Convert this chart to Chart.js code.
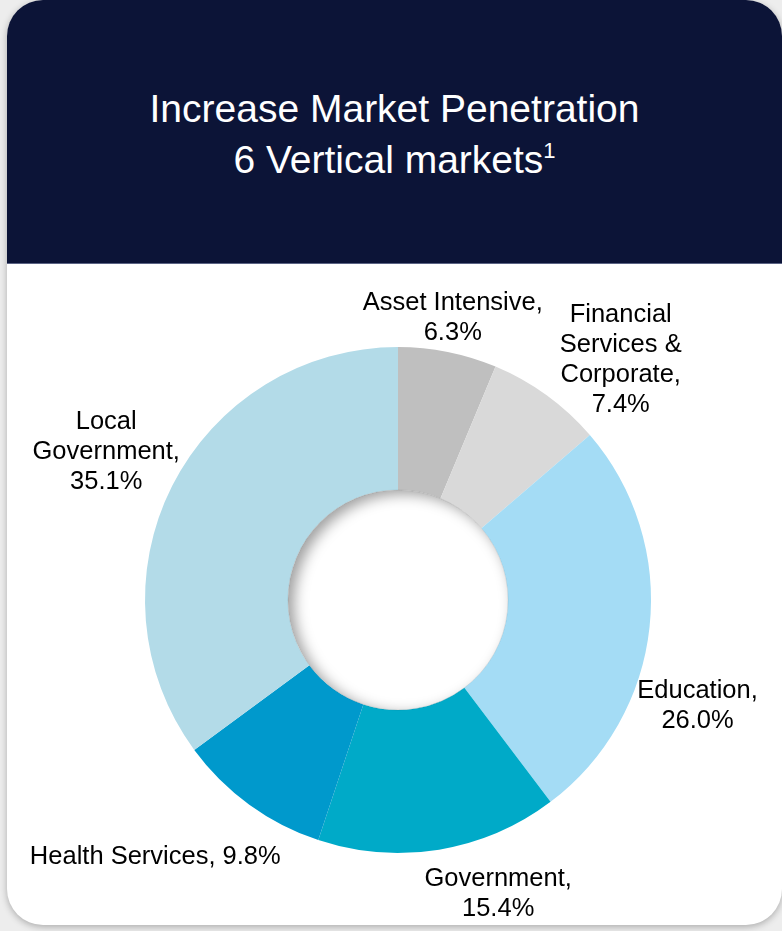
<!DOCTYPE html>
<html>
<head>
<meta charset="utf-8">
<script src="https://cdn.jsdelivr.net/npm/chart.js@4.4.1/dist/chart.umd.min.js"></script>
<style>
  html, body { margin: 0; padding: 0; }
  body {
    width: 782px; height: 931px; overflow: hidden; position: relative;
    background: #ededed;
    font-family: "Liberation Sans", Arial, sans-serif;
  }
  .card {
    position: absolute; left: 7px; top: 0; width: 775px; height: 925px;
    background: #fff; border-radius: 36px; overflow: hidden;
    box-shadow: 0 2px 7px rgba(0, 0, 0, 0.28);
  }
  .head {
    position: absolute; left: 0; top: 0; right: 0; height: 263px;
    background: #0c1437; border-bottom: 1px solid #5b6384;
  }
  .title {
    position: absolute; left: 0; right: 0; top: 83px;
    text-align: center; color: #fff; font-size: 39px; line-height: 51px;
  }
  .title sup { font-size: 22px; vertical-align: top; line-height: 34px; }
  #chart { position: absolute; left: 0; top: 0; }
</style>
</head>
<body>
<div class="card">
  <div class="head">
    <div class="title">Increase Market Penetration<br>6 Vertical markets<sup>1</sup></div>
  </div>
</div>
<canvas id="chart" width="782" height="931"></canvas>
<script>
const categories = ['Asset Intensive', 'Financial Services & Corporate', 'Education', 'Government', 'Health Services', 'Local Government'];
const shares = [6.3, 7.4, 26.0, 15.4, 9.8, 35.1];
const nameLines = [
  ['Asset Intensive,'],
  ['Financial', 'Services &', 'Corporate,'],
  ['Education,'],
  ['Government,'],
  ['Health Services,'],
  ['Local', 'Government,']
];
const colors = ['#bfbfbf', '#d9d9d9', '#a4dcf5', '#00aac8', '#0099cc', '#b3dbe8'];

// inset shadow inside the donut hole
const holeShadow = {
  id: 'holeShadow',
  afterDatasetsDraw(chart) {
    const arc = chart.getDatasetMeta(0).data[0];
    const { x, y, innerRadius } = arc.getProps(['x', 'y', 'innerRadius'], true);
    const ctx = chart.ctx;
    ctx.save();
    ctx.beginPath();
    ctx.arc(x, y, innerRadius, 0, Math.PI * 2);
    ctx.clip();
    ctx.beginPath();
    ctx.arc(x, y, innerRadius + 60, 0, Math.PI * 2);
    ctx.arc(x, y, innerRadius, 0, Math.PI * 2, true);
    ctx.shadowColor = 'rgba(0,0,0,0.38)';
    ctx.shadowBlur = 14;
    ctx.shadowOffsetX = 6;
    ctx.shadowOffsetY = 4;
    ctx.fillStyle = '#fff';
    ctx.fill();
    ctx.restore();
    ctx.save();
    ctx.beginPath();
    ctx.arc(x, y, innerRadius, 0, Math.PI * 2);
    ctx.strokeStyle = 'rgba(0,0,0,0.08)';
    ctx.lineWidth = 1;
    ctx.stroke();
    ctx.restore();
  }
};

// text labels placed next to each slice
const sliceLabels = {
  id: 'sliceLabels',
  afterDraw(chart, args, opts) {
    const ctx = chart.ctx;
    const data = chart.data.datasets[0].data;
    ctx.save();
    ctx.font = opts.font;
    ctx.fillStyle = opts.color;
    ctx.textAlign = 'center';
    ctx.textBaseline = 'middle';
    chart.getDatasetMeta(0).data.forEach((arc, i) => {
      const { x, y, startAngle, endAngle, outerRadius } =
        arc.getProps(['x', 'y', 'startAngle', 'endAngle', 'outerRadius'], true);
      const mid = (startAngle + endAngle) / 2;
      const cx = x + Math.cos(mid) * outerRadius + opts.offsets[i][0];
      const cy = y + Math.sin(mid) * outerRadius + opts.offsets[i][1];
      const pct = data[i].toFixed(1) + '%';
      const lines = nameLines[i].slice();
      if (opts.inline.includes(i)) lines[lines.length - 1] += ' ' + pct;
      else lines.push(pct);
      const top = cy - (lines.length - 1) * opts.lineHeight / 2;
      lines.forEach((t, k) => ctx.fillText(t, cx, top + k * opts.lineHeight));
    });
    ctx.restore();
  }
};

new Chart(document.getElementById('chart'), {
  type: 'doughnut',
  data: {
    labels: categories,
    datasets: [{ data: shares, backgroundColor: colors, borderWidth: 0 }]
  },
  options: {
    responsive: false,
    animation: false,
    cutout: '43.5%',
    layout: { padding: { left: 145, right: 131, top: 347, bottom: 78 } },
    events: [],
    plugins: {
      legend: { display: false },
      tooltip: { enabled: false },
      sliceLabels: {
        font: '25.5px "Liberation Sans", Arial, sans-serif',
        color: '#000',
        lineHeight: 30,
        inline: [4],
        offsets: [[5, -34], [74, -35], [48, 79], [59, 44], [-94, 52], [-66, -34]]
      }
    }
  },
  plugins: [holeShadow, sliceLabels]
});
</script>
</body>
</html>
